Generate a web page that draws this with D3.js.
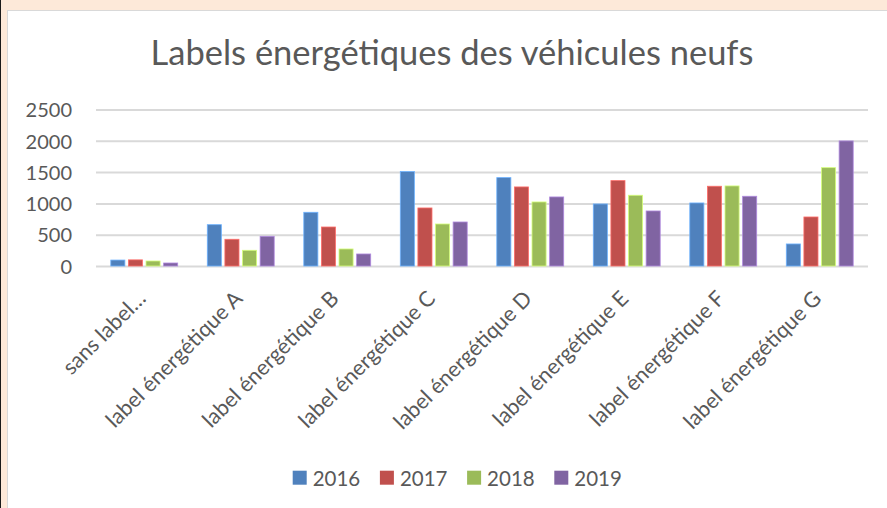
<!DOCTYPE html>
<html>
<head>
<meta charset="utf-8">
<script src="https://cdnjs.cloudflare.com/ajax/libs/d3/7.8.5/d3.min.js"></script>
<style>
html,body{margin:0;padding:0;background:#fde9d9;}
#chart{position:relative;width:887px;height:508px;overflow:hidden;}
</style>
</head>
<body>
<div id="chart"></div>
<script>
//values
var categories = ["sans label\u2026", "label énergétique A", "label énergétique B", "label énergétique C",
	"label énergétique D", "label énergétique E", "label énergétique F", "label énergétique G"];
var years = ["2016", "2017", "2018", "2019"];
var values2016 = [95, 660, 858, 1508, 1412, 991, 1007, 352];
var values2017 = [98, 427, 623, 927, 1263, 1364, 1274, 783];
var values2018 = [80, 251, 272, 671, 1023, 1130, 1279, 1571];
var values2019 = [48, 474, 192, 703, 1103, 879, 1114, 1998];
var yTicks = [0, 500, 1000, 1500, 2000, 2500];
var colors = ["#4f81bd", "#c0504d", "#9bbb59", "#8064a2"];
var title = "Labels énergétiques des véhicules neufs";

var chart = {};
chart.font = "Lato, 'Open Sans', sans-serif";
chart.textcol = "#595959";

chart.draw = function(container){
	var width = 887, height = 508;
	var series = [values2016, values2017, values2018, values2019];

	var svg = d3.select(container).append("svg").attr("width", width).attr("height", height)
		.style("display", "block").style("font-family", chart.font);

	//page background, dark edge on the left, then the white chart area
	svg.append("rect").attr("width", width).attr("height", height).attr("fill", "#fde9d9");
	svg.append("rect").attr("width", 1).attr("height", height).attr("fill", "#1a1a1a");
	svg.append("rect").attr("x", 7.5).attr("y", 10.5).attr("width", width).attr("height", height)
		.attr("fill", "#ffffff").attr("stroke", "#d9d9d9").attr("stroke-width", 1);

	svg.append("text").attr("x", 452).attr("y", 65).attr("text-anchor", "middle")
		.attr("fill", chart.textcol).style("font-size", "34.5px").text(title);

	var plot = {left: 96, right: 868, top: 109.5, bottom: 266};

	var x0 = d3.scaleBand().domain(categories).range([plot.left, plot.right]);
	var x1 = d3.scaleBand().domain(years).range([0, x0.bandwidth()]).paddingInner(0.2).paddingOuter(0.84);
	var y = d3.scaleLinear().domain([0, 2500]).range([plot.bottom, plot.top]);

	//gridlines and value labels
	var yAxis = d3.axisLeft(y).tickValues(yTicks).tickSize(plot.left - plot.right).tickPadding(24).tickFormat(d3.format("d"));
	var ya = svg.append("g").attr("transform", "translate(" + plot.left + ",0)").call(yAxis);
	ya.select(".domain").remove();
	ya.selectAll(".tick line").attr("stroke", "#d9d9d9").attr("stroke-width", 2);
	ya.selectAll(".tick text").attr("fill", chart.textcol).style("font-size", "20px").style("font-family", chart.font)
		.attr("dy", "0.36em");

	//bars
	var groups = svg.append("g").selectAll("g").data(categories).enter().append("g")
		.attr("transform", function(d){return "translate(" + x0(d) + ",0)"});

	groups.selectAll("rect").data(function(d, i){
		return years.map(function(yr, j){return {year: yr, value: series[j][i], col: colors[j]}});
	}).enter().append("rect")
		.attr("x", function(d){return x1(d.year)})
		.attr("y", function(d){return y(d.value)})
		.attr("width", x1.bandwidth())
		.attr("height", function(d){return y(0) - y(d.value)})
		.attr("fill", function(d){return d.col})
		.attr("stroke", function(d){return d3.rgb(d.col).brighter(0.9)})
		.attr("stroke-width", 0.8);

	//rotated category labels
	var xAxis = d3.axisBottom(x0).tickSize(0).tickPadding(0);
	var xa = svg.append("g").attr("transform", "translate(0," + plot.bottom + ")").call(xAxis);
	xa.select(".domain").remove();
	xa.selectAll(".tick text").attr("fill", chart.textcol).style("font-size", "21.5px").style("font-family", chart.font)
		.attr("text-anchor", "end").attr("y", 0).attr("dy", "0.72em")
		.attr("transform", "translate(-8,23) rotate(-45)");

	//legend
	var legend = svg.append("g").selectAll("g").data(years).enter().append("g")
		.attr("transform", function(d, i){return "translate(" + (292.7 + i*87.2) + ",470.7)"});
	legend.append("rect").attr("width", 14).attr("height", 14).attr("fill", function(d, i){return colors[i]});
	legend.append("text").attr("x", 20).attr("y", 14.8).attr("fill", chart.textcol).style("font-size", "20.5px").text(function(d){return d});
}

chart.draw("#chart");
</script>
</body>
</html>
